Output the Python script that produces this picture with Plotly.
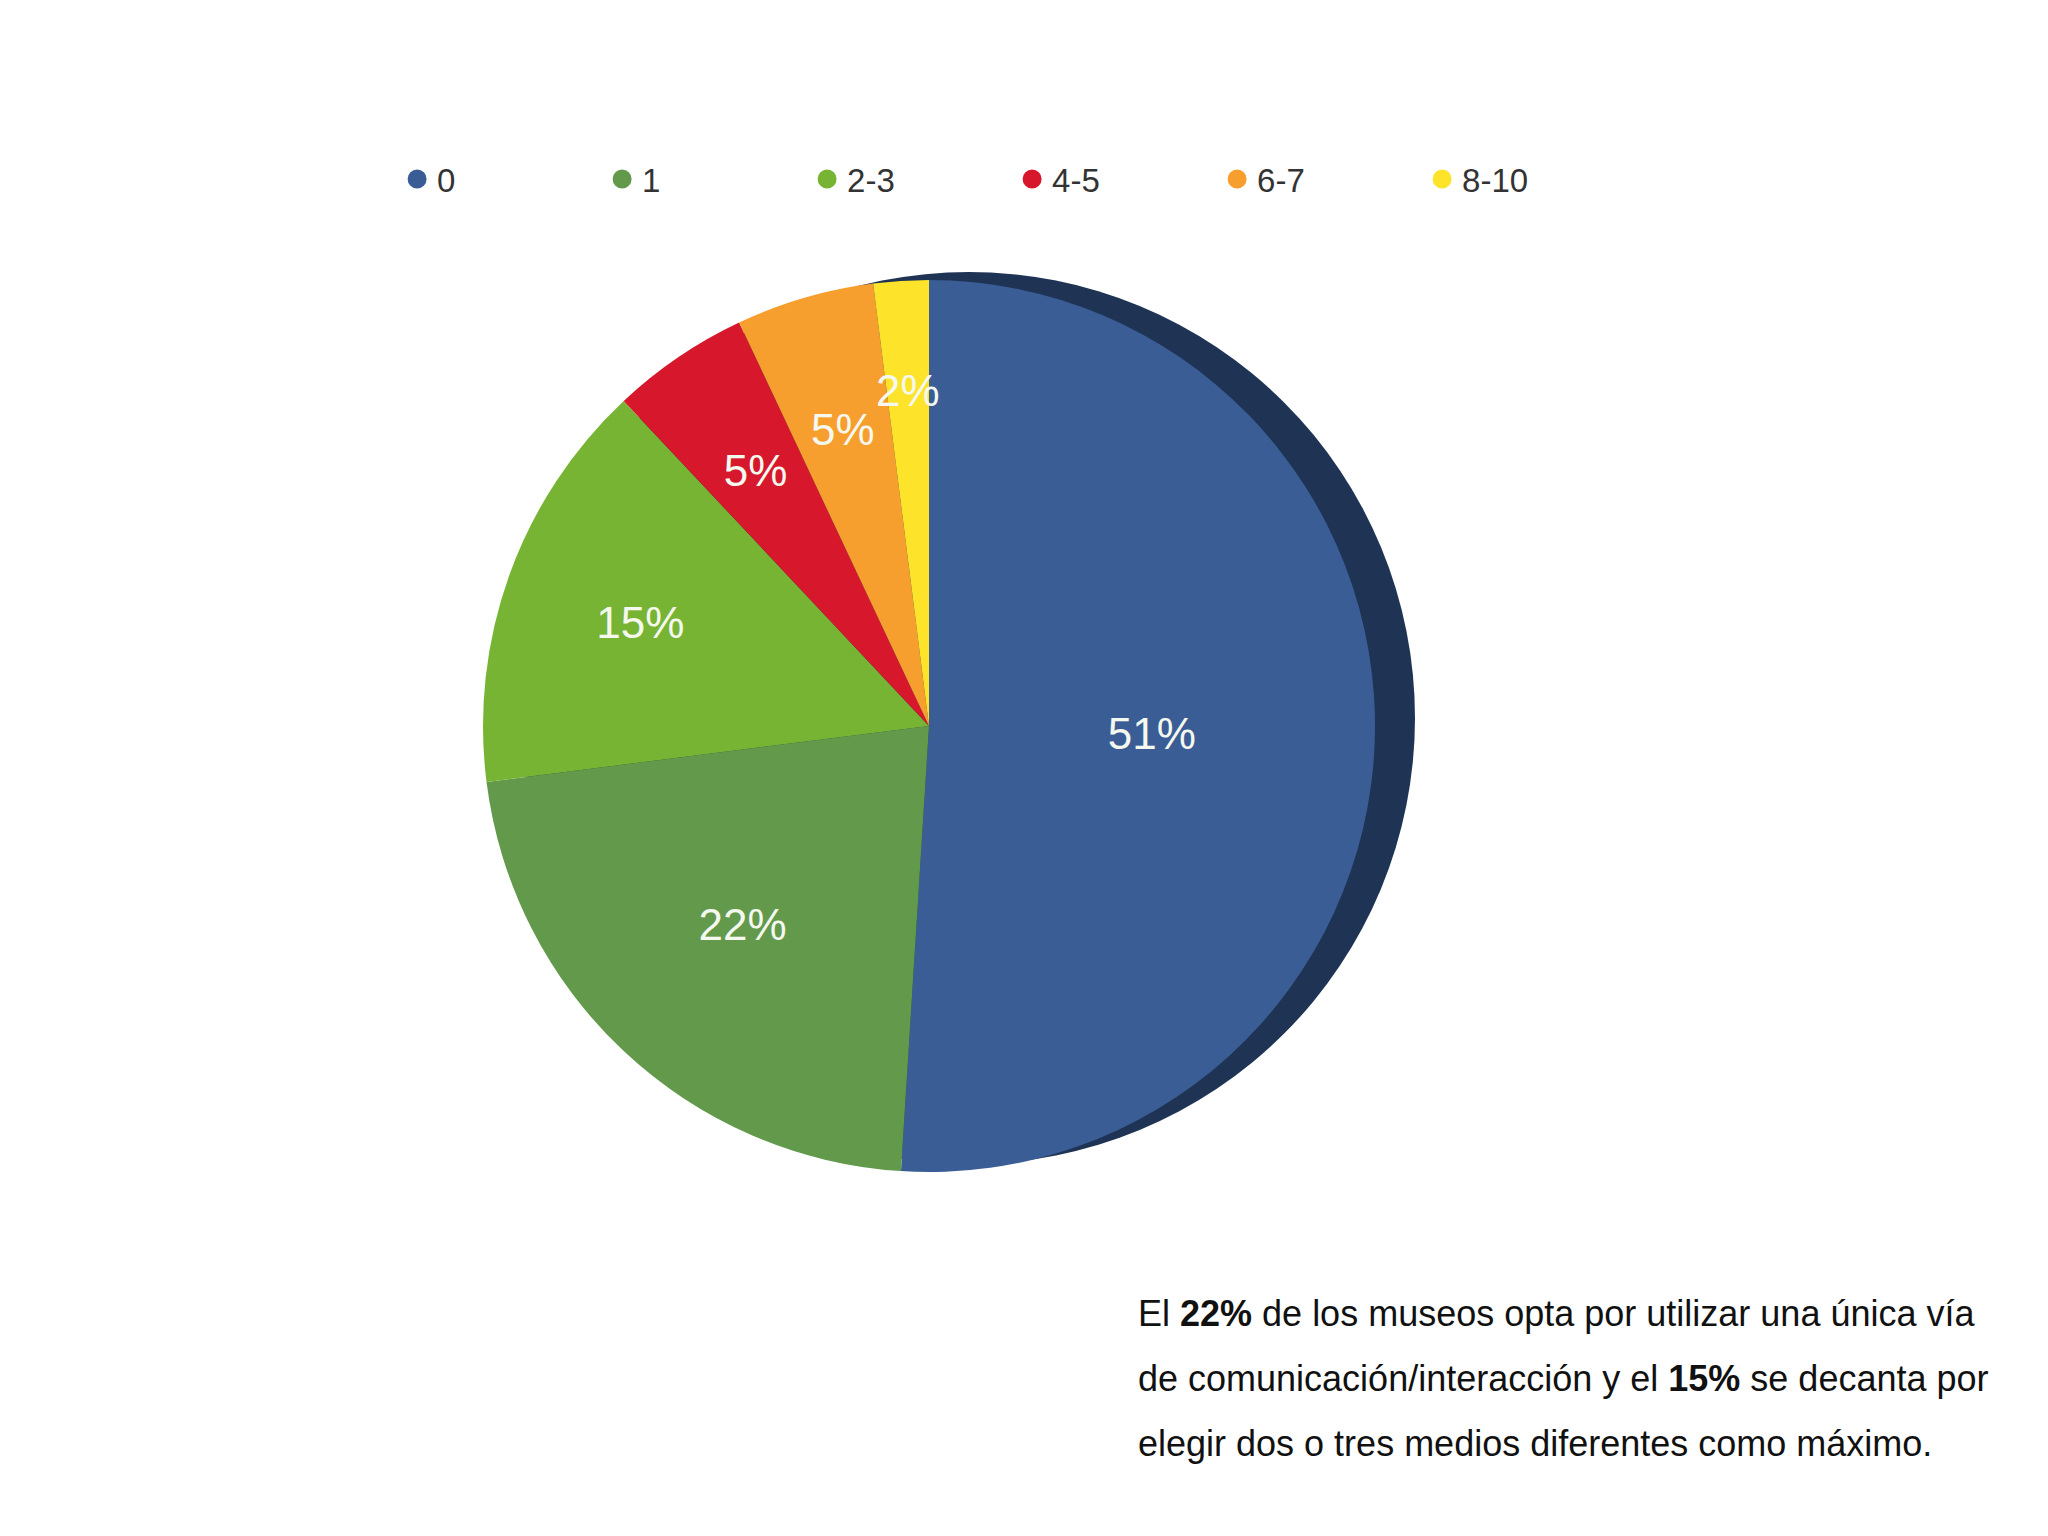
import plotly.graph_objects as go

categories = ["0", "1", "2-3", "4-5", "6-7", "8-10"]
values = [51, 22, 15, 5, 5, 2]
colors = ["#3a5d95", "#62994b", "#78b434", "#d7172b", "#f79f2e", "#fde42a"]

text_lines = [
    "El <b>22%</b> de los museos opta por utilizar una única vía",
    "de comunicación/interacción y el <b>15%</b> se decanta por",
    "elegir dos o tres medios diferentes como máximo.",
]

W, H = 2048, 1536
cx, cy, r = 921, 718, 446
small = [v < 10 for v in values]

def dom(rad):
    return dict(x=[(cx - rad) / W, (cx + rad) / W], y=[(H - cy - rad) / H, (H - cy + rad) / H])

label_font = dict(family="Liberation Sans, Arial", size=44, color="#f4f8ee")

fig = go.Figure()

# main pie (labels for the large slices)
fig.add_trace(go.Pie(
    labels=categories,
    values=values,
    sort=False,
    direction="clockwise",
    rotation=0,
    marker=dict(colors=colors, line=dict(width=0)),
    texttemplate=["" if s else "%{value}%" for s in small],
    textposition="inside",
    insidetextorientation="horizontal",
    textfont=label_font,
    hoverinfo="label+percent",
    showlegend=False,
    domain=dom(r),
))

# transparent inner pie carrying the labels of the thin slices
fig.add_trace(go.Pie(
    labels=categories,
    values=values,
    sort=False,
    direction="clockwise",
    rotation=0,
    marker=dict(colors=["rgba(0,0,0,0)"] * len(values), line=dict(width=0)),
    texttemplate=["%{value}%" if s else "" for s in small],
    textposition="inside",
    insidetextorientation="horizontal",
    textfont=label_font,
    hoverinfo="skip",
    showlegend=False,
    domain=dom(r * 0.8),
))

for cat, col in zip(categories, colors):
    fig.add_trace(go.Scatter(
        x=[None], y=[None], mode="markers", name=cat,
        marker=dict(symbol="circle", size=18, color=col, line=dict(width=3, color=col)),
        showlegend=True,
    ))

# darker rim behind the pie (3D side effect)
dx, dy = 40, -8
fig.add_shape(
    type="circle", xref="paper", yref="paper", layer="below",
    x0=(cx + dx - r) / W, x1=(cx + dx + r) / W,
    y0=(H - cy - dy - r) / H, y1=(H - cy - dy + r) / H,
    fillcolor="#1f3454", line=dict(width=0),
)

for i, line in enumerate(text_lines):
    fig.add_annotation(
        x=1128 / W, y=1 - [1305, 1370, 1435][i] / H,
        xref="paper", yref="paper", xanchor="left", yanchor="middle",
        text=line, showarrow=False,
        font=dict(family="Liberation Sans, Arial", size=36, color="#111111"),
    )

fig.update_layout(
    width=W, height=H,
    margin=dict(l=0, r=0, t=0, b=0),
    paper_bgcolor="white", plot_bgcolor="white",
    xaxis=dict(visible=False), yaxis=dict(visible=False),
    legend=dict(
        orientation="h", x=0.19, y=1 - 171 / H, xanchor="left", yanchor="middle",
        font=dict(family="Liberation Sans, Arial", size=33, color="#333333"),
        entrywidth=160, entrywidthmode="pixels",
        bgcolor="rgba(0,0,0,0)",
    ),
    uniformtext=dict(minsize=44, mode="show"),
)

fig.write_html("out.html")
